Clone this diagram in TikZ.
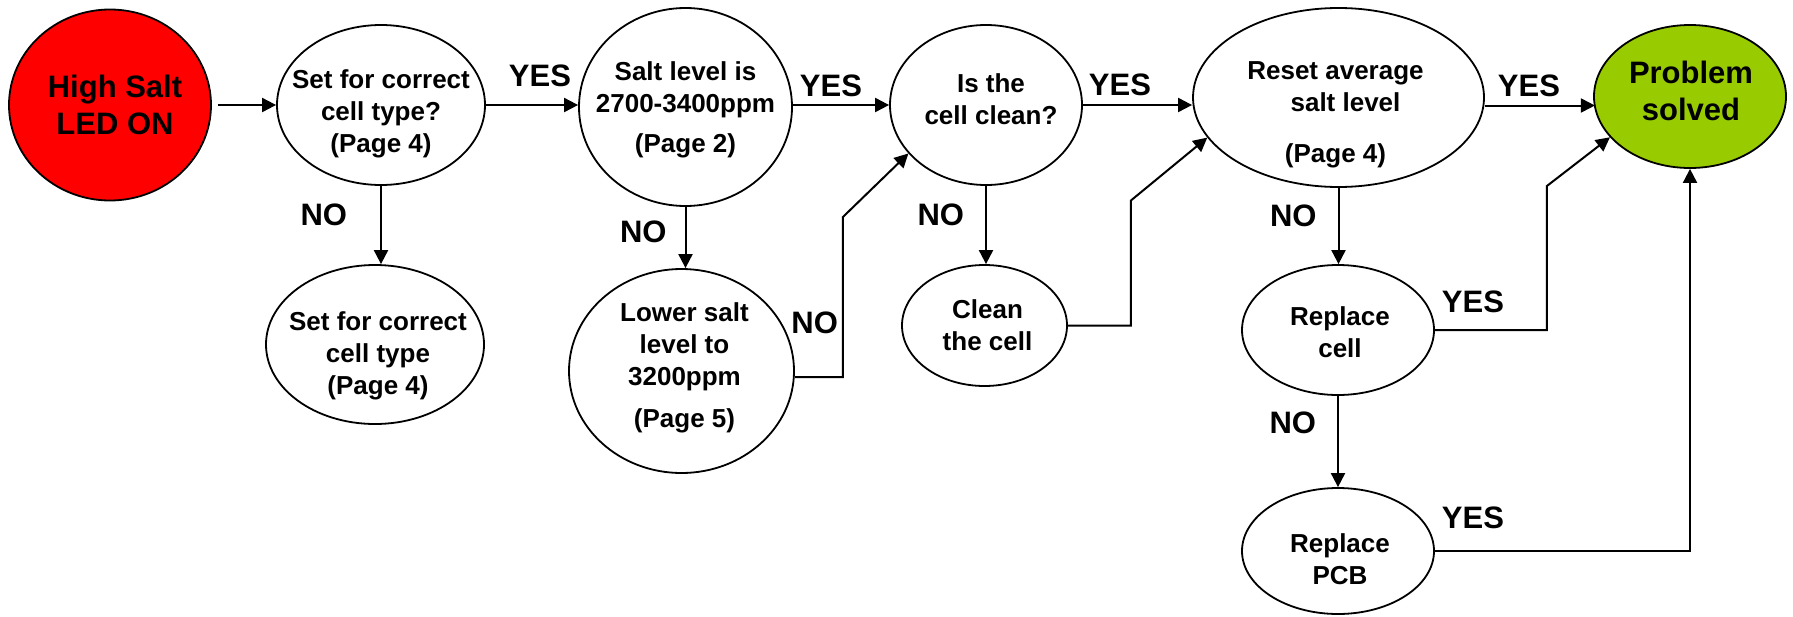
\documentclass[tikz,border=0pt]{standalone}
\usepackage{fontspec}
\setmainfont{Liberation Sans}
\usetikzlibrary{positioning,shapes.geometric,arrows.meta}
\definecolor{ledred}{HTML}{FF0000}
\definecolor{okgreen}{HTML}{99CC00}
\tikzset{
  el/.style={ellipse, draw=black, line width=1.8pt, inner sep=0pt, fill=white},
  st/.style={el, fill=ledred},
  ok/.style={el, fill=okgreen},
  tx/.style={align=center, font=\fontsize{26}{32}\selectfont\bfseries, inner sep=0pt},
  bg/.style={align=center, font=\fontsize{31}{37}\selectfont\bfseries, inner sep=0pt},
  lb/.style={font=\fontsize{31}{36}\selectfont\bfseries, inner sep=0pt},
  ar/.style={line width=2pt, -{Triangle[length=14pt,width=14pt]}}
}
\begin{document}
\begin{tikzpicture}[x=1pt, y=-1pt]
\useasboundingbox (0,0) rectangle (1793,616);
\node[st, minimum width=202pt, minimum height=191pt,
  label={[bg, xshift=5pt]center:{High Salt\\LED ON}}] (high) at (110,105) {};
\node[el, minimum width=208pt, minimum height=160pt,
  label={[tx, yshift=-9pt]center:{Set for correct\\cell type?\\(Page 4)}}] (settype) at (381,105) {};
\node[el, minimum width=218pt, minimum height=159pt,
  label={[tx, xshift=3pt, yshift=-11pt]center:{Set for correct\\cell type\\(Page 4)}}] (fixtype) at (375,344.5) {};
\node[el, minimum width=213pt, minimum height=198pt,
  label={[tx, yshift=-3pt]center:{Salt level is\\2700-3400ppm\\[8pt](Page 2)}}] (salt) at (685.5,107) {};
\node[el, minimum width=225pt, minimum height=204pt,
  label={[tx, xshift=3pt, yshift=3pt]center:{Lower salt\\level to\\3200ppm\\[10pt](Page 5)}}] (lower) at (681.5,371) {};
\node[el, minimum width=192pt, minimum height=160pt,
  label={[tx, xshift=5pt, yshift=6pt]center:{Is the\\cell clean?}}] (clean) at (986,105) {};
\node[el, minimum width=165pt, minimum height=121pt,
  label={[tx, xshift=3pt]center:{Clean\\the cell}}] (wash) at (984.5,325.5) {};
\node[el, minimum width=291pt, minimum height=179pt,
  label={[tx, xshift=-3pt, yshift=-17pt]center:{Reset average\\\hspace*{20pt}salt level\\[19pt](Page 4)}}] (reset) at (1338.5,97.5) {};
\node[el, minimum width=192pt, minimum height=130pt,
  label={[tx, xshift=2pt, yshift=-2pt]center:{Replace\\cell}}] (newcell) at (1338,330) {};
\node[el, minimum width=192pt, minimum height=126pt,
  label={[tx, xshift=2pt, yshift=-8pt]center:{Replace\\PCB}}] (newpcb) at (1338,551) {};
\node[ok, minimum width=192pt, minimum height=143pt,
  label={[bg, xshift=1pt, yshift=6pt]center:{Problem\\solved}}] (solved) at (1690,96.5) {};

\draw[ar, shorten <=6pt] (high) -- (settype);
\draw[ar] (settype.east) -- node[lb, pos=0, above right=17pt and 22pt] {YES} (settype.east -| salt.west);
\draw[ar] (salt.east |- clean.west) -- node[lb, pos=0, above right=7pt and 6pt] {YES} (clean.west);
\draw[ar] (clean.east) -- node[lb, pos=0, above right=8pt and 5pt] {YES} (clean.east -| reset.west);
\draw[ar] ([yshift=-8pt]reset.east) -- node[lb, pos=0, above right=8pt and 12pt] {YES} ++(110,0);

\draw[ar] (settype.south) -- node[lb, pos=0.375, left=33pt] {NO} (settype.south |- fixtype.north);
\draw[ar] (salt.south) -- node[lb, pos=0.4, left=18pt] {NO} (salt.south |- lower.north);
\draw[ar] (clean.south) -- node[lb, pos=0.375, left=21pt] {NO} (clean.south |- wash.north);
\draw[ar] (reset.south) -- node[lb, pos=0.36, left=21pt] {NO} (reset.south |- newcell.north);
\draw[ar] (newcell.south) -- node[lb, pos=0.29, left=21pt] {NO} (newpcb.north);

\draw[ar] ([yshift=-6pt]lower.east) -- ++(48,0) -- node[lb, pos=0.34, left=4pt] {NO} ++(0,-160) -- (clean.-148);
\draw[ar] (wash.east) -- ++(63,0) -- ++(0,-125) -- (reset.-163);
\draw[ar] (newcell.east) -- node[lb, pos=0, above right=16pt and 6pt] {YES} ++(112,0) -- ++(0,-144) -- (solved.-153);
\draw[ar] (newpcb.east) -| node[lb, pos=0, above right=21pt and 6pt] {YES} (solved.south);
\end{tikzpicture}
\end{document}
